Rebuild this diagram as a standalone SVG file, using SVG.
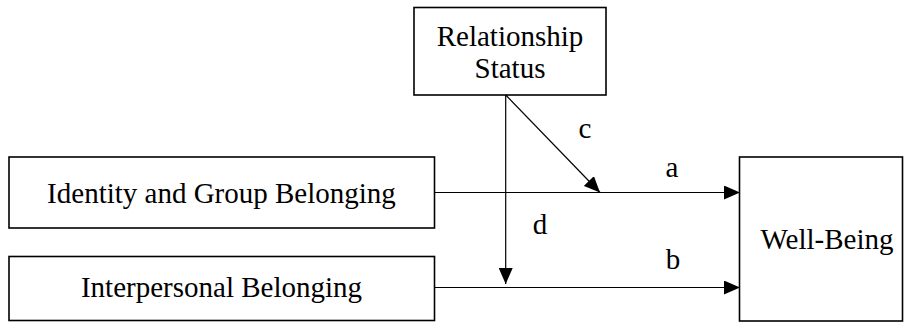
<svg xmlns="http://www.w3.org/2000/svg" width="905" height="322" viewBox="0 0 905 322">
<style>
.box{fill:#fff;stroke:#000;stroke-width:1.6}
.lbl{font-family:"Liberation Serif","Times New Roman",serif;font-size:29px;fill:#000;text-anchor:middle}
.edge{fill:none;stroke:#000;stroke-width:1.2}
</style>
<defs>
<marker id="ah" markerWidth="16" markerHeight="14" refX="16" refY="7" orient="auto" markerUnits="userSpaceOnUse">
<path d="M0,0 L16,7 L0,14 Z" fill="#000"/>
</marker>
</defs>
<rect width="905" height="322" fill="#fff"/>
<g id="relationship-status">
<rect class="box" x="414" y="7.5" width="192" height="87.5"/>
<text class="lbl" x="510" y="46">Relationship</text>
<text class="lbl" x="510" y="78">Status</text>
</g>
<g id="identity-group-belonging">
<rect class="box" x="9" y="157" width="425.5" height="71"/>
<text class="lbl" x="221.5" y="202.5">Identity and Group Belonging</text>
</g>
<g id="interpersonal-belonging">
<rect class="box" x="9" y="256.5" width="425.5" height="64"/>
<text class="lbl" x="221.5" y="297">Interpersonal Belonging</text>
</g>
<g id="well-being">
<rect class="box" x="739.5" y="157" width="163" height="164"/>
<text class="lbl" x="827" y="249">Well-Being</text>
</g>
<g id="connectors">
<line class="edge" x1="434.5" y1="192.5" x2="740" y2="192.5" marker-end="url(#ah)"/>
<line class="edge" x1="434.5" y1="287.5" x2="740" y2="287.5" marker-end="url(#ah)"/>
<line class="edge" x1="505.7" y1="95" x2="505.7" y2="284" marker-end="url(#ah)"/>
<line class="edge" x1="505.7" y1="95" x2="600" y2="192.5" marker-end="url(#ah)"/>
<text class="lbl" x="585" y="138">c</text>
<text class="lbl" x="672" y="177">a</text>
<text class="lbl" x="540" y="234">d</text>
<text class="lbl" x="673" y="269">b</text>
</g>
</svg>
